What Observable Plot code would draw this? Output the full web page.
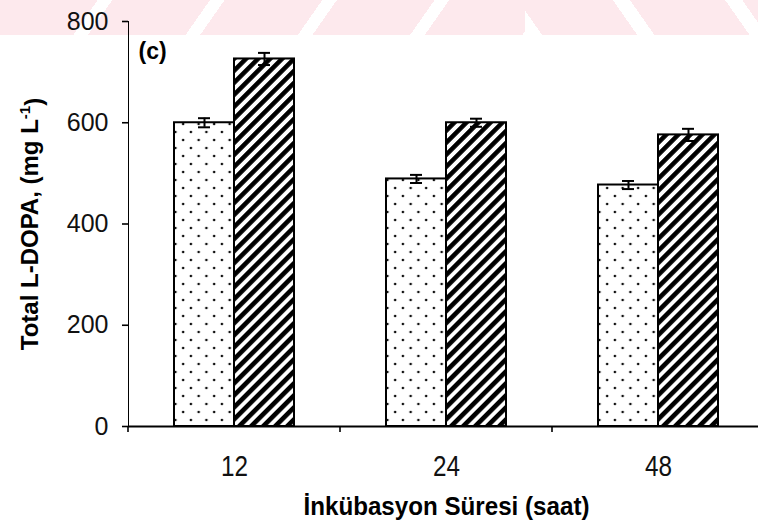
<!DOCTYPE html>
<html>
<head>
<meta charset="utf-8">
<script src="https://cdn.jsdelivr.net/npm/d3@7"></script>
<script src="https://cdn.jsdelivr.net/npm/@observablehq/plot@0.6"></script>
<style>
  html, body { margin: 0; padding: 0; background: #fff; }
  #wrap { position: relative; width: 758px; height: 531px; overflow: hidden; }
  #wm-left, #wm-right { position: absolute; top: 0; height: 35px; }
  #wm-left { left: 0; width: 525px;
    background: repeating-linear-gradient(125deg, #fde9ed 0px, #fde9ed 80px, #ffffff 80px, #ffffff 92px); }
  #wm-right { left: 525px; width: 233px;
    background: repeating-linear-gradient(55deg, #ffffff 0px, #ffffff 14px, #fde9ed 14px, #fde9ed 92px); }
  #chart { position: absolute; top: 0; left: 0; }
  #chart svg { background: transparent !important; overflow: visible; }
  g[aria-label="y-axis tick label"] text { font: 25px "Liberation Sans", Arial, sans-serif; fill: #111; }
  g[aria-label="fx-axis tick label"] text { font: 29px "Liberation Sans", Arial, sans-serif; fill: #111; }
  g[aria-label="y-axis label"] text { font: bold 24px "Liberation Sans", Arial, sans-serif; fill: #000; }
  g[aria-label="fx-axis label"] text { font: bold 25px "Liberation Sans", Arial, sans-serif; fill: #000; }
  g[aria-label="y-axis tick"] path { stroke-width: 1.6; }
</style>
</head>
<body>
<svg width="0" height="0" style="position:absolute">
  <defs>
    <pattern id="dots" patternUnits="userSpaceOnUse" width="15.5" height="16">
      <rect width="15.5" height="16" fill="#ffffff"></rect>
      <circle cx="3.9" cy="4" r="1.3" fill="#111"></circle>
      <circle cx="11.65" cy="12" r="1.3" fill="#111"></circle>
    </pattern>
    <pattern id="hatch" patternUnits="userSpaceOnUse" width="8.5" height="8.5" patternTransform="rotate(45)">
      <rect width="8.5" height="8.5" fill="#ffffff"></rect>
      <rect width="4.6" height="8.5" fill="#000000"></rect>
    </pattern>
  </defs>
</svg>
<div id="wrap">
  <div id="wm-left"></div>
  <div id="wm-right"></div>
  <div id="chart"></div>
</div>
<script>
// ---- data ----
const hours = ["12", "24", "48"];
const seriesKeys = ["dotted", "hatched"];
const dottedValues = [600, 489, 477];
const dottedErrors = [9, 8, 8];
const hatchedValues = [726, 600, 576];
const hatchedErrors = [12, 8, 12];
const yTicks = [0, 200, 400, 600, 800];
const panelLabel = "(c)";
const xTitle = "İnkübasyon Süresi (saat)";
const yTitle = "Total L-DOPA, (mg L";
const yTitleSup = "-1";

const dotted = hours.map((h, i) => ({hour: h, series: "dotted", value: dottedValues[i], err: dottedErrors[i]}));
const hatched = hours.map((h, i) => ({hour: h, series: "hatched", value: hatchedValues[i], err: hatchedErrors[i]}));
const rows = dotted.concat(hatched);

// facet-left boundary tick on the x axis, drawn with the plot's y scale
function boundaryTick(index, scales, values, dimensions) {
  const y0 = scales.y(0);
  const x0 = dimensions.marginLeft;
  const g = d3.create("svg:g").attr("aria-label", "x boundary tick");
  g.append("line")
    .attr("x1", x0).attr("x2", x0)
    .attr("y1", y0).attr("y2", y0 + 6)
    .attr("stroke", "#000").attr("stroke-width", 1.6);
  return g.node();
}

const chart = Plot.plot({
  width: 758,
  height: 531,
  marginTop: 21,
  marginBottom: 105,
  marginLeft: 127,
  marginRight: 0,
  style: {background: "transparent", overflow: "visible"},
  fx: {
    domain: hours, range: [127, 764.5], padding: 0, axis: "bottom",
    tickSize: 0, tickPadding: 29,
    label: xTitle, labelAnchor: "center", labelOffset: 88
  },
  x: {domain: seriesKeys, paddingInner: 0, paddingOuter: 0.742, axis: null},
  y: {
    domain: [0, 800], ticks: yTicks, tickSize: 6, tickPadding: 14, line: true,
    label: yTitle, labelAnchor: "center", labelOffset: 108, labelArrow: "none"
  },
  marks: [
    Plot.barY(dotted, {fx: "hour", x: "series", y: "value", fill: "url(#dots)", stroke: "#000", strokeWidth: 2}),
    Plot.barY(hatched, {fx: "hour", x: "series", y: "value", fill: "url(#hatch)", stroke: "#000", strokeWidth: 2}),
    Plot.ruleX(rows, {fx: "hour", x: "series", y1: d => d.value - d.err, y2: d => d.value + d.err, stroke: "#000", strokeWidth: 2}),
    Plot.tickY(rows, {fx: "hour", x: "series", y: d => d.value + d.err, stroke: "#000", strokeWidth: 2, insetLeft: 24, insetRight: 24}),
    Plot.tickY(rows, {fx: "hour", x: "series", y: d => d.value - d.err, stroke: "#000", strokeWidth: 2, insetLeft: 24, insetRight: 24}),
    Plot.ruleY([0], {stroke: "#000", strokeWidth: 1.8}),
    boundaryTick,
    Plot.text([{hour: hours[0], t: panelLabel}], {
      fx: "hour", text: "t", frameAnchor: "top-left", textAnchor: "start", lineAnchor: "top",
      dx: 10, dy: 21, fontSize: 23, fontWeight: "bold", fontFamily: "Liberation Sans, Arial, sans-serif", fill: "#000"
    })
  ]
});

document.getElementById("chart").appendChild(chart);

// narrower, condensed-looking tick labels and title (as in the reference)
d3.select(chart).selectAll('g[aria-label="fx-axis tick label"] text')
  .attr("textLength", 27).attr("lengthAdjust", "spacingAndGlyphs");
d3.select(chart).selectAll('g[aria-label="fx-axis label"] text')
  .attr("textLength", 286).attr("lengthAdjust", "spacingAndGlyphs");

// superscript in the y-axis title
const yl = d3.select(chart).select('g[aria-label="y-axis label"] text');
if (!yl.empty()) {
  yl.text(null);
  yl.append("tspan").text(yTitle);
  yl.append("tspan").attr("dy", "-0.5em").attr("font-size", "15px").text(yTitleSup);
  yl.append("tspan").attr("dy", "0.5em").text(")");
}
</script>
</body>
</html>
